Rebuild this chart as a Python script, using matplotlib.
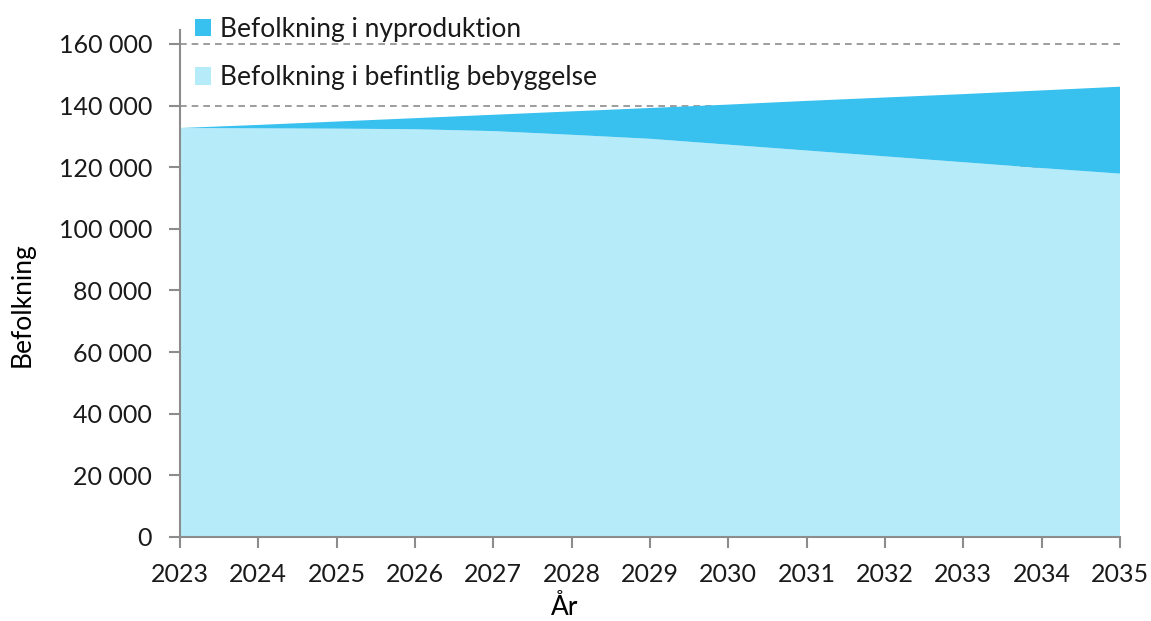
import matplotlib
matplotlib.use("Agg")
import matplotlib.pyplot as plt
from matplotlib.patches import Patch
from matplotlib.ticker import FuncFormatter

years = [2023, 2024, 2025, 2026, 2027, 2028, 2029, 2030, 2031, 2032, 2033, 2034, 2035]
befintlig = [132700, 132600, 132500, 132300, 131700, 130500, 129200, 127300, 125400, 123500, 121600, 119700, 117900]
total = [132700, 133700, 134800, 135900, 137000, 138100, 139200, 140300, 141500, 142600, 143700, 144900, 146100]
nyproduktion = [t - b for t, b in zip(total, befintlig)]

labels = ["Befolkning i nyproduktion", "Befolkning i befintlig bebyggelse"]
c_ny = "#38C0EE"
c_bef = "#B6EBFA"

plt.rcParams['font.family'] = ['Lato', 'DejaVu Sans']

fig = plt.figure(figsize=(11.51, 6.21), dpi=100)
ax = fig.add_axes([180/1151, 1-537/621, 940/1151, 507/621])

ax.stackplot(years, befintlig, nyproduktion, colors=[c_bef, c_ny], zorder=2, linewidth=0)

ax.set_xlim(2023, 2035)
ax.set_ylim(0, 164500)
ax.set_yticks(range(0, 160001, 20000))
ax.set_xticks(years)
ax.yaxis.set_major_formatter(FuncFormatter(lambda v, p: f"{int(v):,}".replace(",", " ")))
ax.grid(axis='y', color='#8C8C8C', linestyle=(0, (4, 3)), linewidth=1.2, zorder=1)
ax.set_axisbelow(True)

for s in ['top', 'right']:
    ax.spines[s].set_visible(False)
for s in ['left', 'bottom']:
    ax.spines[s].set_color('#8C8C8C')
    ax.spines[s].set_linewidth(1.5)
    ax.spines[s].set_zorder(3)
ax.tick_params(axis='both', direction='out', length=8, width=1.5, color='#8C8C8C',
               labelsize=18, labelcolor='#1a1a1a')
ax.tick_params(axis='y', pad=12)
ax.tick_params(axis='x', pad=11)

ax.set_xlabel("År", fontsize=19, color='#000000')
ax.xaxis.set_label_coords((565-180)/940, -0.115)
fig.text(22/1151, 1-305/621, "Befolkning", rotation=90, fontsize=19, ha='center', va='center')

handles = [Patch(facecolor=c_ny, edgecolor='none'), Patch(facecolor=c_bef, edgecolor='none')]
leg = fig.legend(handles, labels, loc='upper left', bbox_to_anchor=(184/1151, 1-6/621), frameon=False,
                 fontsize=19, handlelength=0.62, handleheight=0.62, handletextpad=0.36, labelspacing=0.9,
                 borderaxespad=0)
for t in leg.get_texts():
    t.set_color('#1a1a1a')

fig.savefig("out.png", dpi=100)
